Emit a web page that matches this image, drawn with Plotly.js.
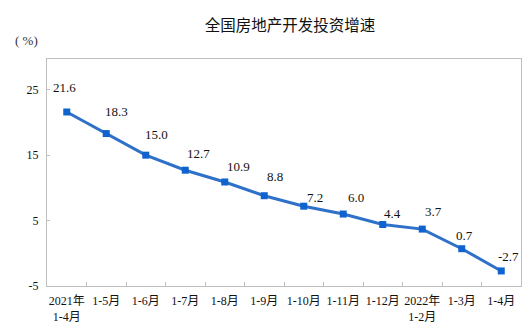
<!DOCTYPE html>
<html>
<head>
<meta charset="utf-8">
<script src="https://cdn.plot.ly/plotly-3.0.1.min.js"></script>
<style>html,body{margin:0;padding:0;background:#fff;}#chart{width:531px;height:329px;}</style>
</head>
<body>
<div id="chart"></div>
<script>
// Data
const categories = ["2021年<br>1-4月", "1-5月", "1-6月", "1-7月", "1-8月", "1-9月", "1-10月", "1-11月", "1-12月", "2022年<br>1-2月", "1-3月", "1-4月"];
const growth = [21.6, 18.3, 15.0, 12.7, 10.9, 8.8, 7.2, 6.0, 4.4, 3.7, 0.7, -2.7];
const yTicks = [-5, 5, 15, 25];

// Label placement (pixel offsets, styling only)
const labelDx = [-2, 10, 11, 13, 14, 11, 11, 12.6, 10, 11, 2.5, 7];
const labelDy = [24.5, 22.4, 21, 17, 15, 19, 8.5, 16.3, 11, 17.3, 13.7, 14.3];

const serif = '"Liberation Serif", "Times New Roman", "Noto Sans CJK SC", serif';

const trace = {
  type: 'scatter',
  mode: 'lines+markers',
  x: categories,
  y: growth,
  line: {color: '#2F71C8', width: 3},
  marker: {symbol: 'square', size: 7, color: '#0F63CF'},
  hoverinfo: 'skip',
  showlegend: false
};

const annotations = growth.map((v, i) => ({
  x: i, y: v, xref: 'x', yref: 'y',
  text: v.toFixed(1),
  showarrow: false,
  xanchor: 'center', yanchor: 'middle',
  xshift: labelDx[i], yshift: labelDy[i],
  font: {family: serif, size: 13, color: '#111'}
}));
annotations.push({
  xref: 'paper', yref: 'paper',
  x: -0.044, y: 1.08,
  xanchor: 'center', yanchor: 'middle',
  text: '( %)', showarrow: false,
  font: {family: serif, size: 13, color: '#333'}
});

const layout = {
  width: 531, height: 329,
  margin: {l: 47, r: 10, t: 59, b: 43},
  paper_bgcolor: '#fff', plot_bgcolor: '#fff',
  title: {
    text: '全国房地产开发投资增速',
    font: {family: '"Noto Sans CJK SC", sans-serif', size: 15.5, color: '#111'},
    x: 290 / 531, xanchor: 'center', xref: 'container',
    y: 1 - 25.7 / 329, yanchor: 'middle', yref: 'container'
  },
  xaxis: {
    type: 'category',
    range: [-0.5, 11.5],
    showline: true, mirror: true, linecolor: '#bfbfbf', linewidth: 1,
    showgrid: false, zeroline: false,
    ticks: 'inside', tickson: 'boundaries', ticklen: 4, tickcolor: '#bfbfbf', tickwidth: 1,
    tickangle: 0,
    tickfont: {family: serif, size: 12, color: '#111'},
    ticklabelstandoff: 4,
    fixedrange: true
  },
  yaxis: {
    range: [-5, 29.7],
    tickvals: yTicks,
    ticktext: yTicks.map(String),
    showline: true, mirror: true, linecolor: '#bfbfbf', linewidth: 1,
    showgrid: false, zeroline: false,
    ticks: 'inside', ticklen: 3, tickcolor: '#bfbfbf', tickwidth: 1,
    tickfont: {family: serif, size: 12, color: '#111'},
    ticklabelstandoff: 5,
    fixedrange: true
  },
  annotations: annotations
};

Plotly.newPlot('chart', [trace], layout, {displayModeBar: false, staticPlot: true});
</script>
</body>
</html>
